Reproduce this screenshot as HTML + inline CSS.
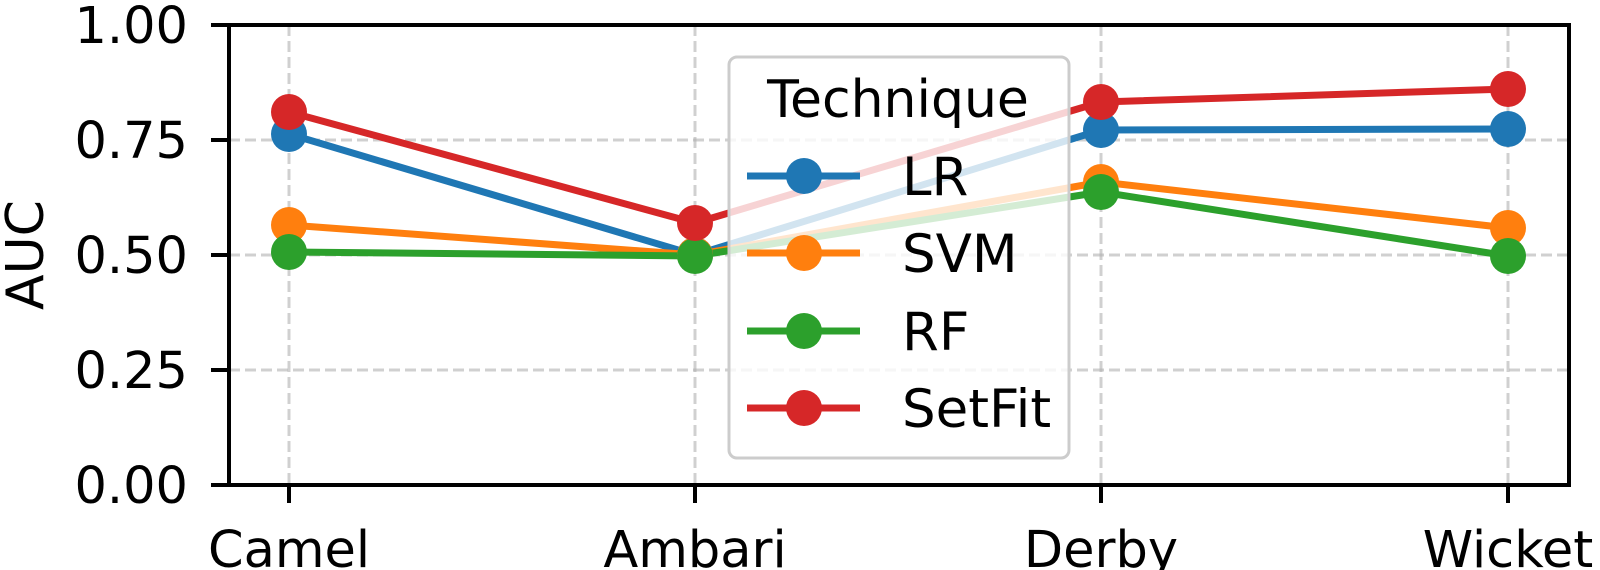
<!DOCTYPE html>
<html><head><meta charset="utf-8"><style>body{margin:0;background:#fff}svg{display:block}</style></head>
<body>
<svg width="1600" height="570" viewBox="0 0 1600 570" xmlns="http://www.w3.org/2000/svg" font-family="DejaVu Sans, Liberation Sans, sans-serif">
<rect width="1600" height="570" fill="#fff"/>
<g stroke="#b0b0b0" stroke-opacity="0.6" stroke-width="3" stroke-dasharray="11,5">
<line x1="289" y1="25" x2="289" y2="485"/><line x1="695" y1="25" x2="695" y2="485"/>
<line x1="1101" y1="25" x2="1101" y2="485"/><line x1="1508" y1="25" x2="1508" y2="485"/>
<line x1="229" y1="140" x2="1569" y2="140"/><line x1="229" y1="255" x2="1569" y2="255"/>
<line x1="229" y1="370" x2="1569" y2="370"/>
</g>
<g fill="none" stroke-width="7" stroke-linejoin="round">
<polyline stroke="#1f77b4" points="289,134 695,255 1101,130 1508,129"/>
<polyline stroke="#ff7f0e" points="289,225 695,255 1101,182 1508,228"/>
<polyline stroke="#2ca02c" points="289,252 695,256 1101,192 1508,256"/>
<polyline stroke="#d62728" points="289,112 695,223 1101,102 1508,89"/>
</g>
<g>
<circle cx="289" cy="134" r="18" fill="#1f77b4"/><circle cx="695" cy="255" r="18" fill="#1f77b4"/><circle cx="1101" cy="130" r="18" fill="#1f77b4"/><circle cx="1508" cy="129" r="18" fill="#1f77b4"/>
<circle cx="289" cy="225" r="18" fill="#ff7f0e"/><circle cx="695" cy="255" r="18" fill="#ff7f0e"/><circle cx="1101" cy="182" r="18" fill="#ff7f0e"/><circle cx="1508" cy="228" r="18" fill="#ff7f0e"/>
<circle cx="289" cy="252" r="18" fill="#2ca02c"/><circle cx="695" cy="256" r="18" fill="#2ca02c"/><circle cx="1101" cy="192" r="18" fill="#2ca02c"/><circle cx="1508" cy="256" r="18" fill="#2ca02c"/>
<circle cx="289" cy="112" r="18" fill="#d62728"/><circle cx="695" cy="223" r="18" fill="#d62728"/><circle cx="1101" cy="102" r="18" fill="#d62728"/><circle cx="1508" cy="89" r="18" fill="#d62728"/>
</g>
<rect x="729" y="57" width="340" height="401" rx="8" fill="#fff" fill-opacity="0.8" stroke="#cccccc" stroke-width="3"/>
<text x="898" y="117" font-size="52" text-anchor="middle" fill="#000">Technique</text>
<g stroke-width="7">
<line x1="747" y1="176" x2="860" y2="176" stroke="#1f77b4"/><circle cx="804" cy="176" r="18" fill="#1f77b4"/>
<line x1="747" y1="253" x2="860" y2="253" stroke="#ff7f0e"/><circle cx="804" cy="253" r="18" fill="#ff7f0e"/>
<line x1="747" y1="331" x2="860" y2="331" stroke="#2ca02c"/><circle cx="804" cy="331" r="18" fill="#2ca02c"/>
<line x1="747" y1="408" x2="860" y2="408" stroke="#d62728"/><circle cx="804" cy="408" r="18" fill="#d62728"/>
</g>
<g font-size="53" fill="#000">
<text x="902" y="195">LR</text><text x="902" y="272">SVM</text><text x="902" y="350">RF</text><text x="902" y="427">SetFit</text>
</g>
<rect x="229" y="25" width="1340" height="460" fill="none" stroke="#000" stroke-width="4"/>
<g stroke="#000" stroke-width="4">
<line x1="211" y1="25" x2="229" y2="25"/><line x1="211" y1="140" x2="229" y2="140"/><line x1="211" y1="255" x2="229" y2="255"/><line x1="211" y1="370" x2="229" y2="370"/><line x1="211" y1="485" x2="229" y2="485"/>
<line x1="289" y1="485" x2="289" y2="503"/><line x1="695" y1="485" x2="695" y2="503"/><line x1="1101" y1="485" x2="1101" y2="503"/><line x1="1508" y1="485" x2="1508" y2="503"/>
</g>
<g font-size="51" fill="#000" text-anchor="end">
<text x="188" y="43">1.00</text><text x="188" y="158">0.75</text><text x="188" y="273">0.50</text><text x="188" y="388">0.25</text><text x="188" y="503">0.00</text>
</g>
<g font-size="51" fill="#000" text-anchor="middle">
<text x="289" y="567">Camel</text><text x="695" y="567">Ambari</text><text x="1101" y="567">Derby</text><text x="1508" y="567">Wicket</text>
</g>
<text transform="translate(43,255) rotate(-90)" font-size="52" text-anchor="middle" fill="#000">AUC</text>
</svg>
</body></html>
